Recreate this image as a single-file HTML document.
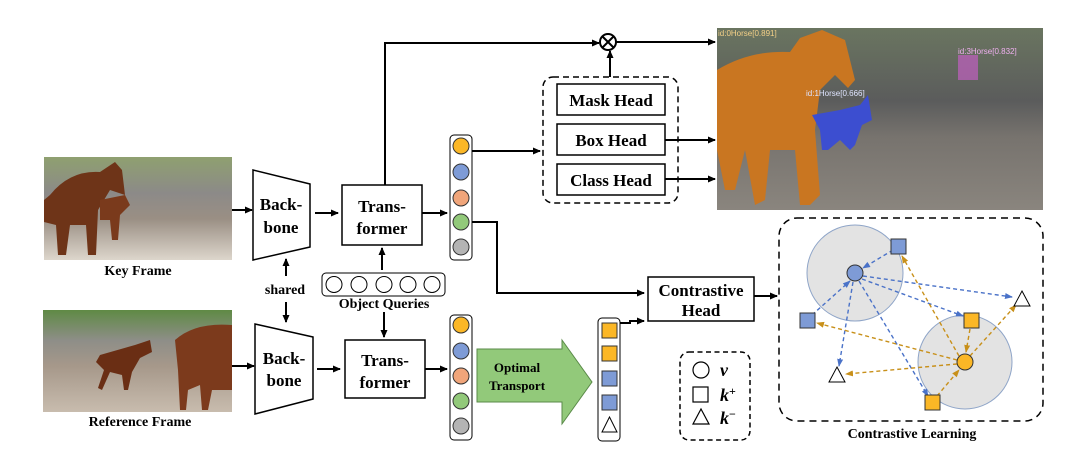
<!DOCTYPE html>
<html><head><meta charset="utf-8"><style>
html,body{margin:0;padding:0;background:#fff;}
svg{display:block;font-family:"Liberation Serif",serif;font-weight:bold;}
</style></head><body>
<svg width="1080" height="449" viewBox="0 0 1080 449" xmlns="http://www.w3.org/2000/svg">
<defs>
<marker id="ah" markerWidth="8" markerHeight="8" refX="7" refY="4" orient="auto" markerUnits="userSpaceOnUse"><path d="M0,0.5 L8,4 L0,7.5 z" fill="#000"/></marker>
<marker id="ab" markerWidth="8" markerHeight="8" refX="7" refY="4" orient="auto" markerUnits="userSpaceOnUse"><path d="M0,1 L8,4 L0,7 z" fill="#4a72c8"/></marker>
<marker id="ay" markerWidth="8" markerHeight="8" refX="7" refY="4" orient="auto" markerUnits="userSpaceOnUse"><path d="M0,1 L8,4 L0,7 z" fill="#c8901a"/></marker>
<linearGradient id="g1" x1="0" y1="0" x2="0" y2="1"><stop offset="0" stop-color="#8fa070"/><stop offset="0.35" stop-color="#8c8a88"/><stop offset="0.6" stop-color="#9a8f84"/><stop offset="1" stop-color="#ddd6cc"/></linearGradient>
<linearGradient id="g2" x1="0" y1="0" x2="0" y2="1"><stop offset="0" stop-color="#5f8a45"/><stop offset="0.3" stop-color="#8e8e88"/><stop offset="0.55" stop-color="#a6988a"/><stop offset="1" stop-color="#c8bcae"/></linearGradient>
<linearGradient id="g3" x1="0" y1="0" x2="0" y2="1"><stop offset="0" stop-color="#6a7560"/><stop offset="0.4" stop-color="#5b5c5c"/><stop offset="0.6" stop-color="#77736e"/><stop offset="1" stop-color="#8a857e"/></linearGradient>
</defs>

<rect x="44" y="157" width="188" height="103" fill="url(#g1)"/>
<path d="M50,195 Q70,170 100,172 L115,162 L122,170 L125,195 L110,190 L98,210 L96,255 L88,255 L86,225 L70,225 L66,255 L58,255 L56,225 L44,222 L44,200 z" fill="#6e3418"/>
<path d="M100,200 L125,195 L130,205 L120,215 L118,240 L112,240 L110,220 L100,220 z" fill="#7a3a1c"/>
<text x="138" y="275" font-size="14" text-anchor="middle">Key Frame</text>

<rect x="43" y="310" width="189" height="102" fill="url(#g2)"/>
<path d="M100,355 L135,345 L150,340 L152,352 L140,358 L132,372 L128,390 L124,390 L122,375 L110,372 L102,390 L98,388 L104,370 L96,362 z" fill="#6a2e14"/>
<path d="M175,340 Q195,322 232,325 L232,390 L212,390 L208,410 L202,410 L200,385 L188,390 L186,410 L180,410 L178,370 z" fill="#7c3a1c"/>
<text x="140" y="426" font-size="14" text-anchor="middle">Reference Frame</text>

<line x1="232" y1="210" x2="252" y2="210" stroke="#000" stroke-width="2" marker-end="url(#ah)"/>
<line x1="232" y1="366" x2="254" y2="366" stroke="#000" stroke-width="2" marker-end="url(#ah)"/>

<path d="M253,170 L310,184 L310,247 L253,260 z" fill="#fff" stroke="#000" stroke-width="1.5"/>
<text x="281" y="210" font-size="17" text-anchor="middle">Back-</text>
<text x="281" y="233" font-size="17" text-anchor="middle">bone</text>
<path d="M255,324 L313,337 L313,399 L255,414 z" fill="#fff" stroke="#000" stroke-width="1.5"/>
<text x="284" y="364" font-size="17" text-anchor="middle">Back-</text>
<text x="284" y="386" font-size="17" text-anchor="middle">bone</text>

<line x1="286" y1="276" x2="286" y2="259" stroke="#000" stroke-width="2" marker-end="url(#ah)"/>
<text x="285" y="294" font-size="14" text-anchor="middle">shared</text>
<line x1="286" y1="302" x2="286" y2="322" stroke="#000" stroke-width="2" marker-end="url(#ah)"/>

<line x1="315" y1="213" x2="338" y2="213" stroke="#000" stroke-width="2" marker-end="url(#ah)"/>
<line x1="317" y1="369" x2="340" y2="369" stroke="#000" stroke-width="2" marker-end="url(#ah)"/>

<rect x="342" y="185" width="80" height="60" fill="#fff" stroke="#000" stroke-width="1.5"/>
<text x="382" y="212" font-size="17" text-anchor="middle">Trans-</text>
<text x="382" y="234" font-size="17" text-anchor="middle">former</text>
<rect x="345" y="340" width="80" height="58" fill="#fff" stroke="#000" stroke-width="1.5"/>
<text x="385" y="366" font-size="17" text-anchor="middle">Trans-</text>
<text x="385" y="388" font-size="17" text-anchor="middle">former</text>

<line x1="382" y1="270" x2="382" y2="248" stroke="#000" stroke-width="2" marker-end="url(#ah)"/>
<rect x="322" y="273" width="123" height="23" rx="4" fill="#fff" stroke="#000" stroke-width="1"/>
<g fill="#fff" stroke="#000" stroke-width="1"><circle cx="334" cy="284.5" r="8"/><circle cx="359" cy="284.5" r="8"/><circle cx="384" cy="284.5" r="8"/><circle cx="408" cy="284.5" r="8"/><circle cx="432" cy="284.5" r="8"/></g>
<text x="384" y="308" font-size="14" text-anchor="middle">Object Queries</text>
<line x1="384" y1="312" x2="384" y2="337" stroke="#000" stroke-width="2" marker-end="url(#ah)"/>

<line x1="422" y1="213" x2="447" y2="213" stroke="#000" stroke-width="2" marker-end="url(#ah)"/>
<line x1="425" y1="369" x2="447" y2="369" stroke="#000" stroke-width="2" marker-end="url(#ah)"/>

<rect x="450" y="135" width="22" height="125" rx="4" fill="#fff" stroke="#000" stroke-width="1"/>
<g stroke="#333" stroke-width="1"><circle cx="461" cy="146" r="8" fill="#fbb726"/><circle cx="461" cy="172" r="8" fill="#7e9bd6"/><circle cx="461" cy="198" r="8" fill="#f0a57a"/><circle cx="461" cy="222" r="8" fill="#92c97a"/><circle cx="461" cy="247" r="8" fill="#b4b4b4"/></g>
<rect x="450" y="315" width="22" height="125" rx="4" fill="#fff" stroke="#000" stroke-width="1"/>
<g stroke="#333" stroke-width="1"><circle cx="461" cy="325" r="8" fill="#fbb726"/><circle cx="461" cy="351" r="8" fill="#7e9bd6"/><circle cx="461" cy="376" r="8" fill="#f0a57a"/><circle cx="461" cy="401" r="8" fill="#92c97a"/><circle cx="461" cy="426" r="8" fill="#b4b4b4"/></g>

<polyline points="385,185 385,43 599,43" fill="none" stroke="#000" stroke-width="2" marker-end="url(#ah)"/>
<circle cx="608" cy="42" r="8" fill="#fff" stroke="#000" stroke-width="2"/>
<line x1="602.5" y1="36.5" x2="613.5" y2="47.5" stroke="#000" stroke-width="2"/>
<line x1="613.5" y1="36.5" x2="602.5" y2="47.5" stroke="#000" stroke-width="2"/>
<line x1="616" y1="42" x2="715" y2="42" stroke="#000" stroke-width="2" marker-end="url(#ah)"/>
<line x1="610" y1="77" x2="610" y2="51" stroke="#000" stroke-width="2" marker-end="url(#ah)"/>

<line x1="472" y1="151" x2="540" y2="151" stroke="#000" stroke-width="2" marker-end="url(#ah)"/>
<polyline points="472,222 497,222 497,293 644,293" fill="none" stroke="#000" stroke-width="2" marker-end="url(#ah)"/>

<rect x="543" y="77" width="135" height="126" rx="10" fill="none" stroke="#000" stroke-width="1.5" stroke-dasharray="6,4"/>
<rect x="557" y="84" width="108" height="31" fill="#fff" stroke="#000" stroke-width="1.5"/>
<text x="611" y="106" font-size="17" text-anchor="middle">Mask Head</text>
<rect x="557" y="124" width="108" height="31" fill="#fff" stroke="#000" stroke-width="1.5"/>
<text x="611" y="146" font-size="17" text-anchor="middle">Box Head</text>
<rect x="557" y="164" width="108" height="31" fill="#fff" stroke="#000" stroke-width="1.5"/>
<text x="611" y="186" font-size="17" text-anchor="middle">Class Head</text>
<line x1="665" y1="140" x2="715" y2="140" stroke="#000" stroke-width="2" marker-end="url(#ah)"/>
<line x1="665" y1="179" x2="715" y2="179" stroke="#000" stroke-width="2" marker-end="url(#ah)"/>

<rect x="717" y="28" width="326" height="182" fill="url(#g3)"/>
<path d="M717,70 Q750,50 790,52 L800,38 L822,30 L845,40 L855,80 L848,88 L835,75 L820,90 L815,130 L820,195 L810,205 L800,205 L795,150 L770,150 L765,200 L755,205 L745,150 L735,190 L725,190 L717,150 z" fill="#c97621"/>
<path d="M812,115 L840,110 L860,105 L868,95 L872,120 L862,125 L855,145 L850,150 L840,140 L828,150 L822,150 L820,130 z" fill="#3c4ed0"/>
<rect x="958" y="55" width="20" height="25" fill="#c060c0" opacity="0.7"/>
<text x="718" y="36" font-size="8" fill="#f4d088" font-family="Liberation Sans,sans-serif" font-weight="normal">id:0Horse[0.891]</text>
<text x="806" y="96" font-size="8" fill="#dfe4ff" font-family="Liberation Sans,sans-serif" font-weight="normal">id:1Horse[0.666]</text>
<text x="958" y="54" font-size="8" fill="#f0b0f0" font-family="Liberation Sans,sans-serif" font-weight="normal">id:3Horse[0.832]</text>

<rect x="648" y="277" width="106" height="44" fill="#fff" stroke="#000" stroke-width="1.5"/>
<text x="701" y="296" font-size="17" text-anchor="middle">Contrastive</text>
<text x="701" y="316" font-size="17" text-anchor="middle">Head</text>
<line x1="754" y1="296" x2="777" y2="296" stroke="#000" stroke-width="2" marker-end="url(#ah)"/>

<path d="M477,349 L562,349 L562,340 L592,382 L562,424 L562,402 L477,402 z" fill="#92c97a" stroke="#5a8a48" stroke-width="1"/>
<text x="517" y="372" font-size="13" text-anchor="middle">Optimal</text>
<text x="517" y="390" font-size="13" text-anchor="middle">Transport</text>

<rect x="598" y="318" width="22" height="123" rx="4" fill="#fff" stroke="#000" stroke-width="1"/>
<g stroke="#333" stroke-width="1"><rect x="602" y="323" width="15" height="15" fill="#fbb726"/><rect x="602" y="346" width="15" height="15" fill="#fbb726"/><rect x="602" y="371" width="15" height="15" fill="#7e9bd6"/><rect x="602" y="395" width="15" height="15" fill="#7e9bd6"/></g>
<path d="M609.5,417 L617,432 L602,432 z" fill="#fff" stroke="#000" stroke-width="1"/>
<polyline points="620,323 630,323 630,321 644,321" fill="none" stroke="#000" stroke-width="2" marker-end="url(#ah)"/>

<rect x="680" y="352" width="70" height="88" rx="9" fill="none" stroke="#000" stroke-width="1.5" stroke-dasharray="5,3.5"/>
<circle cx="701" cy="370" r="8" fill="#fff" stroke="#000" stroke-width="1.2"/>
<text x="720" y="376" font-size="18" font-style="italic">v</text>
<rect x="693" y="387" width="15" height="15" fill="#fff" stroke="#000" stroke-width="1.2"/>
<text x="720" y="401" font-size="18" font-style="italic">k<tspan font-size="12" dy="-6" font-style="normal">+</tspan></text>
<path d="M701,409 L709,424 L693,424 z" fill="#fff" stroke="#000" stroke-width="1.2"/>
<text x="720" y="424" font-size="18" font-style="italic">k<tspan font-size="12" dy="-6" font-style="normal">−</tspan></text>

<rect x="779" y="218" width="264" height="203" rx="18" fill="none" stroke="#000" stroke-width="1.5" stroke-dasharray="7,5"/>
<circle cx="855" cy="273" r="48" fill="#e3e3e3" stroke="#8fa5c8" stroke-width="1"/>
<circle cx="965" cy="362" r="47" fill="#e3e3e3" stroke="#8fa5c8" stroke-width="1"/>
<g stroke="#4a72c8" stroke-width="1.4" stroke-dasharray="4,3" fill="none">
<line x1="893" y1="250" x2="863" y2="268" marker-end="url(#ab)"/>
<line x1="863" y1="276" x2="1012" y2="297" marker-end="url(#ab)"/>
<line x1="862" y1="279" x2="963" y2="316" marker-end="url(#ab)"/>
<line x1="859" y1="281" x2="928" y2="396" marker-end="url(#ab)"/>
<line x1="853" y1="282" x2="839" y2="366" marker-end="url(#ab)"/>
<line x1="812" y1="315" x2="850" y2="281" marker-end="url(#ab)"/>
</g>
<g stroke="#c8901a" stroke-width="1.4" stroke-dasharray="4,3" fill="none">
<line x1="959" y1="356" x2="902" y2="256" marker-end="url(#ay)"/>
<line x1="957" y1="360" x2="817" y2="323" marker-end="url(#ay)"/>
<line x1="957" y1="364" x2="846" y2="374" marker-end="url(#ay)"/>
<line x1="970" y1="356" x2="1016" y2="305" marker-end="url(#ay)"/>
<line x1="970" y1="329" x2="966" y2="352" marker-end="url(#ay)"/>
<line x1="937" y1="396" x2="959" y2="370" marker-end="url(#ay)"/>
</g>
<circle cx="855" cy="273" r="8" fill="#7e9bd6" stroke="#333" stroke-width="1"/>
<circle cx="965" cy="362" r="8" fill="#fbb726" stroke="#333" stroke-width="1"/>
<g stroke="#333" stroke-width="1">
<rect x="891" y="239" width="15" height="15" fill="#7e9bd6"/>
<rect x="800" y="313" width="15" height="15" fill="#7e9bd6"/>
<rect x="964" y="313" width="15" height="15" fill="#fbb726"/>
<rect x="925" y="395" width="15" height="15" fill="#fbb726"/>
</g>
<path d="M1022,291 L1030,306 L1014,306 z" fill="#fff" stroke="#000" stroke-width="1"/>
<path d="M837,367 L845,382 L829,382 z" fill="#fff" stroke="#000" stroke-width="1"/>
<text x="912" y="438" font-size="14" text-anchor="middle">Contrastive Learning</text>
</svg>
</body></html>
